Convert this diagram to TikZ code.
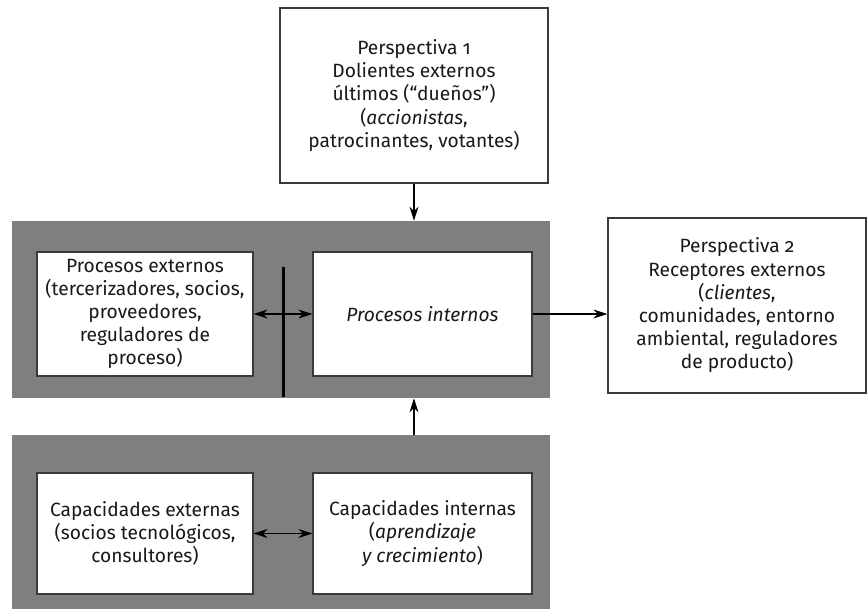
\documentclass[tikz,border=0pt]{standalone}
\usepackage{fontspec}
\setmainfont{Fira Sans}[Numbers=OldStyle]
\usetikzlibrary{arrows.meta, positioning, calc}
\definecolor{BandGray}{HTML}{7F7F7F}
\definecolor{EdgeGray}{HTML}{3A3A3A}

\begin{document}
\begin{tikzpicture}[x=0.5pt, y=-0.5pt,
			every node/.style={font=\fontsize{9.6}{11.6}\selectfont, align=center, inner sep=0pt, text=black!90},
			box/.style={draw=EdgeGray, line width=0.6pt, fill=white, rectangle},
			band/.style={fill=BandGray, draw=none, rectangle},
			link/.style={-{Stealth[length=7pt, width=4.5pt]}, line width=0.6pt},
			dlink/.style={{Stealth[length=7pt, width=4.5pt]}-{Stealth[length=7pt, width=4.5pt]}, line width=0.6pt}
		]
			\useasboundingbox (0,0) rectangle (868,609);

			% bandas grises
			\node (procband) [band, minimum width=269pt, minimum height=88.5pt] at (281,309.5) {};
			\node (capband) [band, minimum width=269pt, minimum height=90pt] at (281,525) {};

			\node (persp1) [box, minimum width=134pt, minimum height=87.5pt] at (414,95.5) {Perspectiva 1\\Dolientes externos\\últimos (“dueños”)\\(\textit{accionistas},\\patrocinantes, votantes)};
			\node (persp2) [box, minimum width=129pt, minimum height=87.5pt] at (737,305.5) {Perspectiva 2\\Receptores externos\\(\textit{clientes},\\comunidades, entorno\\ambiental, reguladores\\de producto)};

			\node (procext) [box, minimum width=108pt, minimum height=62pt] at (145,314) {Procesos externos\\(tercerizadores, socios,\\proveedores,\\reguladores de\\proceso)};
			\node (procint) [box, minimum width=109.5pt, minimum height=62pt] at (422.5,314) {\textit{Procesos internos}};

			\node (capext) [box, minimum width=108pt, minimum height=60.5pt] at (145,533.5) {Capacidades externas\\(socios tecnológicos,\\consultores)};
			\node (capint) [box, minimum width=109.5pt, minimum height=60.5pt] at (422.5,533.5) {Capacidades internas\\(\textit{aprendizaje}\\\textit{y crecimiento})};

			\coordinate (wallTop) at (283,267);
			\coordinate (wallBot) at (283,397);
			\draw[line width=1.5pt] (wallTop) -- (wallBot);

			\draw[link] (persp1.south) -- (persp1.south |- procband.north);
			\draw[link] (capband.north -| persp1.south) -- (procband.south -| persp1.south);
			\draw[dlink] (procext.east) -- (procint.west);
			\draw[link] (procint.east) -- (persp2.west |- procint.east);
			\draw[dlink] (capext.east) -- (capint.west);
		\end{tikzpicture}
\end{document}
